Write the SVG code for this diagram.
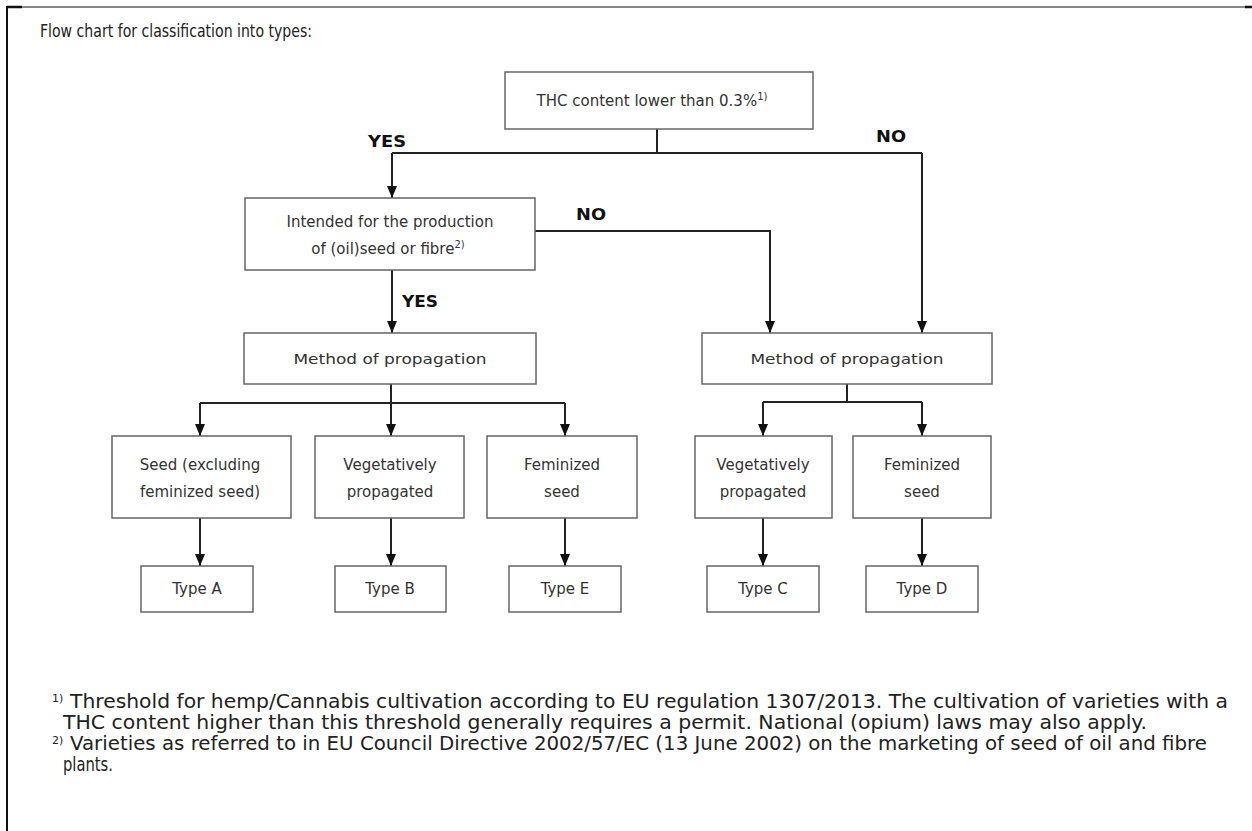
<svg xmlns="http://www.w3.org/2000/svg" width="1252" height="831" viewBox="0 0 1252 831">
<style>
.box{fill:#fff;stroke:#666;stroke-width:1.5}
.t{font-family:"DejaVu Sans",Verdana,sans-serif;font-size:15px;fill:#333;text-anchor:middle}
.lbl{font-family:"DejaVu Sans",Verdana,sans-serif;font-size:15px;font-weight:bold;fill:#111}
.fn{font-family:"DejaVu Sans",Verdana,sans-serif;font-size:19px;fill:#222}
.sup{font-size:10px}
.ln{fill:none;stroke:#222;stroke-width:2}
</style>
<defs>
<marker id="ah" viewBox="0 0 12 10" refX="12" refY="5" markerWidth="12" markerHeight="10" markerUnits="userSpaceOnUse" orient="auto">
<path d="M0,0 L12,5 L0,10 z" fill="#111"/>
</marker>
</defs>
<rect width="1252" height="831" fill="#fff"/>
<g id="frame">
<line x1="7" y1="7" x2="1252" y2="7" stroke="#111" stroke-width="1"/>
<line x1="7" y1="7" x2="22" y2="7" stroke="#111" stroke-width="2.5"/>
<line x1="1245" y1="7" x2="1252" y2="7" stroke="#111" stroke-width="2.5"/>
<line x1="7" y1="6" x2="7" y2="831" stroke="#111" stroke-width="2"/>
</g>
<text x="40" y="37" class="fn" style="font-size:17px" textLength="272" lengthAdjust="spacingAndGlyphs">Flow chart for classification into types:</text>
<g id="connectors">
<path class="ln" d="M657,129 V153 M392,153 H922"/>
<path class="ln" d="M392,153 V198" marker-end="url(#ah)"/>
<path class="ln" d="M922,153 V333" marker-end="url(#ah)"/>
<path class="ln" d="M535,231 H770 V333" marker-end="url(#ah)"/>
<path class="ln" d="M392,270 V333" marker-end="url(#ah)"/>
<path class="ln" d="M391,384 V403 M200,403 H565"/>
<path class="ln" d="M200,403 V436" marker-end="url(#ah)"/>
<path class="ln" d="M391,403 V436" marker-end="url(#ah)"/>
<path class="ln" d="M565,403 V436" marker-end="url(#ah)"/>
<path class="ln" d="M847,384 V402 M763,402 H922"/>
<path class="ln" d="M763,402 V436" marker-end="url(#ah)"/>
<path class="ln" d="M922,402 V436" marker-end="url(#ah)"/>
<path class="ln" d="M200,518 V566" marker-end="url(#ah)"/>
<path class="ln" d="M391,518 V566" marker-end="url(#ah)"/>
<path class="ln" d="M565,518 V566" marker-end="url(#ah)"/>
<path class="ln" d="M763,518 V566" marker-end="url(#ah)"/>
<path class="ln" d="M922,518 V566" marker-end="url(#ah)"/>
<text x="368" y="147" class="lbl" textLength="38" lengthAdjust="spacingAndGlyphs">YES</text>
<text x="876" y="142" class="lbl" textLength="30" lengthAdjust="spacingAndGlyphs">NO</text>
<text x="576" y="220" class="lbl" textLength="30" lengthAdjust="spacingAndGlyphs">NO</text>
<text x="402" y="307" class="lbl" textLength="36" lengthAdjust="spacingAndGlyphs">YES</text>
</g>
<g id="thc">
<rect class="box" x="505" y="72" width="308" height="57"/>
<text x="652" y="106" class="t">THC content lower than 0.3%<tspan class="sup" dy="-6">1)</tspan></text>
</g>
<g id="intended">
<rect class="box" x="245" y="198" width="290" height="72"/>
<text x="390" y="227" class="t">Intended for the production</text>
<text x="388" y="254" class="t">of (oil)seed or fibre<tspan class="sup" dy="-6">2)</tspan></text>
</g>
<g id="method1">
<rect class="box" x="244" y="333" width="292" height="51"/>
<text x="390" y="364" class="t" style="font-size:14px" textLength="193" lengthAdjust="spacingAndGlyphs">Method of propagation</text>
</g>
<g id="method2">
<rect class="box" x="702" y="333" width="290" height="51"/>
<text x="847" y="364" class="t" style="font-size:14px" textLength="193" lengthAdjust="spacingAndGlyphs">Method of propagation</text>
</g>
<g id="seed">
<rect class="box" x="112" y="436" width="179" height="82"/>
<text x="200" y="470" class="t">Seed (excluding</text>
<text x="200" y="497" class="t">feminized seed)</text>
</g>
<g id="veg1">
<rect class="box" x="315" y="436" width="149" height="82"/>
<text x="390" y="470" class="t">Vegetatively</text>
<text x="390" y="497" class="t">propagated</text>
</g>
<g id="fem1">
<rect class="box" x="487" y="436" width="150" height="82"/>
<text x="562" y="470" class="t">Feminized</text>
<text x="562" y="497" class="t">seed</text>
</g>
<g id="veg2">
<rect class="box" x="695" y="436" width="137" height="82"/>
<text x="763" y="470" class="t">Vegetatively</text>
<text x="763" y="497" class="t">propagated</text>
</g>
<g id="fem2">
<rect class="box" x="853" y="436" width="138" height="82"/>
<text x="922" y="470" class="t">Feminized</text>
<text x="922" y="497" class="t">seed</text>
</g>
<g id="typeA">
<rect class="box" x="141" y="566" width="112" height="46"/>
<text x="197" y="594" class="t">Type A</text>
</g>
<g id="typeB">
<rect class="box" x="335" y="566" width="111" height="46"/>
<text x="390" y="594" class="t">Type B</text>
</g>
<g id="typeE">
<rect class="box" x="509" y="566" width="112" height="46"/>
<text x="565" y="594" class="t">Type E</text>
</g>
<g id="typeC">
<rect class="box" x="707" y="566" width="112" height="46"/>
<text x="763" y="594" class="t">Type C</text>
</g>
<g id="typeD">
<rect class="box" x="866" y="566" width="112" height="46"/>
<text x="922" y="594" class="t">Type D</text>
</g>
<g id="footnotes">
<text x="52" y="708" class="fn"><tspan class="sup" style="font-size:11px" dy="-6">1)</tspan></text>
<text x="70" y="708" class="fn" textLength="1158" lengthAdjust="spacingAndGlyphs">Threshold for hemp/Cannabis cultivation according to EU regulation 1307/2013. The cultivation of varieties with a</text>
<text x="63" y="729" class="fn" textLength="1084" lengthAdjust="spacingAndGlyphs">THC content higher than this threshold generally requires a permit. National (opium) laws may also apply.</text>
<text x="52" y="750" class="fn"><tspan class="sup" style="font-size:11px" dy="-6">2)</tspan></text>
<text x="70" y="750" class="fn" textLength="1137" lengthAdjust="spacingAndGlyphs">Varieties as referred to in EU Council Directive 2002/57/EC (13 June 2002) on the marketing of seed of oil and fibre</text>
<text x="63" y="771" class="fn" textLength="50" lengthAdjust="spacingAndGlyphs">plants.</text>
</g>
</svg>
